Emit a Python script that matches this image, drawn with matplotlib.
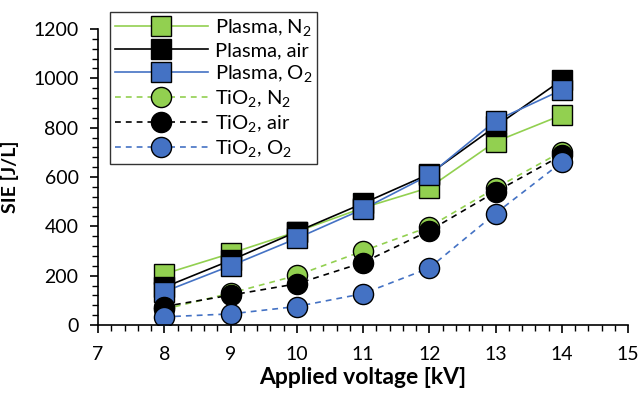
import numpy as np
import matplotlib
matplotlib.use('Agg')
import matplotlib.pyplot as plt
from matplotlib.ticker import MultipleLocator

plt.rcParams['font.family'] = ['Lato', 'DejaVu Sans']
plt.rcParams['mathtext.fontset'] = 'custom'
plt.rcParams['mathtext.rm'] = 'Lato'
plt.rcParams['mathtext.it'] = 'Lato:italic'
plt.rcParams['mathtext.bf'] = 'Lato:bold'
plt.rcParams['mathtext.default'] = 'regular'

# data
voltage = [8, 9, 10, 11, 12, 13, 14]
plasma_n2 = [207, 290, 378, 475, 557, 743, 851]
plasma_air = [153, 262, 378, 493, 612, 805, 993]
plasma_o2 = [135, 240, 351, 470, 608, 828, 953]
tio2_n2 = [64, 129, 201, 300, 398, 555, 703]
tio2_air = [75, 121, 167, 253, 382, 540, 688]
tio2_o2 = [33, 45, 75, 127, 231, 452, 660]

labels = ['Plasma, N$_2$', 'Plasma, air', 'Plasma, O$_2$',
          'TiO$_2$, N$_2$', 'TiO$_2$, air', 'TiO$_2$, O$_2$']

green = '#92D050'
blue = '#4472C4'
black = '#000000'

fig = plt.figure(figsize=(6.39, 3.96), dpi=100)
ax = fig.add_axes([98/639, 1-325/396, (628-98)/639, (325-29)/396])

ms = 14.5
ax.plot(voltage, plasma_n2, '-', color=green, lw=1.2, marker='s', ms=ms,
        mfc=green, mec='black', mew=1.0, label=labels[0])
ax.plot(voltage, plasma_air, '-', color=black, lw=1.2, marker='s', ms=ms,
        mfc=black, mec='black', mew=1.0, label=labels[1])
ax.plot(voltage, plasma_o2, '-', color=blue, lw=1.2, marker='s', ms=ms,
        mfc=blue, mec='black', mew=1.0, label=labels[2])
ax.plot(voltage, tio2_n2, '--', color=green, lw=1.2, dashes=(3.5, 3), marker='o', ms=ms,
        mfc=green, mec='black', mew=1.0, label=labels[3])
ax.plot(voltage, tio2_air, '--', color=black, lw=1.2, dashes=(3.5, 3), marker='o', ms=ms,
        mfc=black, mec='black', mew=1.0, label=labels[4])
ax.plot(voltage, tio2_o2, '--', color=blue, lw=1.2, dashes=(3.5, 3), marker='o', ms=ms,
        mfc=blue, mec='black', mew=1.0, label=labels[5])

ax.set_xlim(7, 15)
ax.set_ylim(0, 1200)
ax.xaxis.set_major_locator(MultipleLocator(1))
ax.xaxis.set_minor_locator(MultipleLocator(0.2))
ax.yaxis.set_major_locator(MultipleLocator(200))
ax.yaxis.set_minor_locator(MultipleLocator(40))
ax.tick_params(which='major', direction='out', length=6, width=1.2, labelsize=14, color='black')
ax.tick_params(axis='x', which='major', pad=9)
ax.tick_params(axis='y', which='major', pad=8)
ax.tick_params(which='minor', direction='out', length=4, width=1.0, color='black')
for s in ['top', 'right']:
    ax.spines[s].set_visible(False)
for s in ['left', 'bottom']:
    ax.spines[s].set_linewidth(1.2)

ax.set_xlabel('Applied voltage [kV]', fontsize=16.5, fontweight='bold', labelpad=3)
ax.set_ylabel('SIE [J/L]', fontsize=14, fontweight='bold', labelpad=10)

leg = fig.legend(loc='upper left', bbox_to_anchor=(110/639, 1-12/396),
                 bbox_transform=fig.transFigure, borderaxespad=0,
                 prop={'family': 'Lato', 'size': 14.5}, handlelength=4.6, labelspacing=0.2,
                 frameon=True, fancybox=False, edgecolor='black',
                 borderpad=0.25, handletextpad=0.35, markerscale=1.0)
leg.get_frame().set_linewidth(1.0)

fig.savefig('out.png', dpi=100)
